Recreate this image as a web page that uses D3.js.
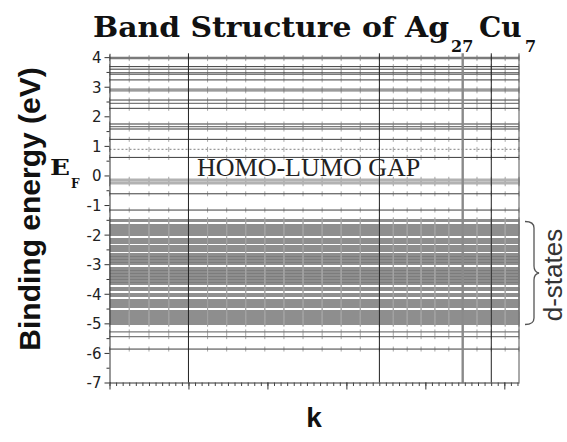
<!DOCTYPE html>
<html><head><meta charset="utf-8">
<script src="https://cdn.jsdelivr.net/npm/d3@7"></script>
<style>html,body{margin:0;padding:0;background:#fff;} svg{display:block;}</style>
</head><body>
<svg id="chart" width="567" height="442"></svg>
<script>
// ---------- data ----------
const yTicks = [4, 3, 2, 1, 0, -1, -2, -3, -4, -5, -6, -7];
const yTickLabels = ["4", "3", "2", "1", "0", "-1", "-2", "-3", "-4", "-5", "-6", "-7"];
const yMinorTicks = [3.5, 2.5, 1.5, 0.5, -0.5, -1.5, -2.5, -3.5, -4.5, -5.5, -6.5];
const kDomain = [0, 5.186];
const eDomain = [-7, 4.13];
const kMajorTicks = [0, 1, 2, 3, 4, 5];
const kSymLines = [1.0, 3.418, 4.835];
const kSymGray = [4.473];
const kPoints = [0, 0.25, 0.5, 0.75, 1.0, 1.242, 1.484, 1.725, 1.967, 2.209, 2.451, 2.693,
  2.934, 3.176, 3.418, 3.594, 3.770, 3.946, 4.121, 4.297, 4.473, 4.654, 4.835, 5.011, 5.186];
const darkBands = [3.68, 3.47, 3.23, 2.55, 2.27, 1.22, 0.61, -0.62, -1.17, -5.87];
const grayBands = [3.99, 3.95, 3.59, 3.42, 2.92, 2.86, 2.44, 1.74, 1.65, 1.57, -5.29, -5.45];
const dottedBands = [0.88];
const homoBands = [-0.13, -0.18, -0.23, -0.28];
const dBands = [-1.50, -1.55, -1.67, -1.72, -1.77, -1.82, -1.87, -1.92, -1.97, -2.02,
  -2.14, -2.19, -2.24, -2.29, -2.40, -2.45, -2.50, -2.55, -2.67, -2.72, -2.77, -2.82,
  -2.87, -2.92, -2.97, -3.01, -3.13, -3.18, -3.23, -3.28, -3.33, -3.38, -3.43, -3.48,
  -3.53, -3.58, -3.63, -3.66, -3.80, -3.84, -3.88, -4.00, -4.05, -4.09, -4.21, -4.26,
  -4.31, -4.36, -4.41, -4.46, -4.59, -4.64, -4.69, -4.74, -4.79, -4.84, -4.89, -4.94,
  -4.99, -5.03];
const dBandsDense = [-2.745, -2.845, -2.945, -3.205, -3.305, -3.405, -3.505, -3.605];

// ---------- drawing ----------
const svg = d3.select("#chart");
svg.append("rect").attr("width", 567).attr("height", 442).attr("fill", "#fff");
const x = d3.scaleLinear().domain(kDomain).range([109.5, 519]);
const y = d3.scaleLinear().domain(eDomain).range([382.5, 53.3]);

const otherBands = [].concat(darkBands, grayBands, dottedBands, homoBands);
const line = d3.line().x(d => x(d[0])).y(d => y(d[1]));
const bandPts = e => kPoints.map(k => [k, e]);

function drawMarkers(vals, color) {
  const g = svg.append("g");
  vals.forEach(e => {
    g.selectAll(null).data(kPoints).join("line")
      .attr("x1", k => x(k)).attr("x2", k => x(k))
      .attr("y1", y(e) - 2.5).attr("y2", y(e) + 2.5)
      .attr("stroke", color).attr("stroke-width", 1);
  });
}
function drawBands(vals, color, width, opacity, dash, crisp) {
  svg.append("g").attr("shape-rendering", crisp ? "crispEdges" : null)
    .selectAll("path").data(vals).join("path")
    .attr("d", e => line(bandPts(e)))
    .attr("fill", "none").attr("stroke", color)
    .attr("stroke-width", width).attr("stroke-opacity", opacity)
    .attr("stroke-dasharray", dash || null);
}
drawMarkers(otherBands, "#a8a8a8");
drawBands(dBands, "#8e8e8e", 2, 1, null, true);
drawBands(dBandsDense, "#7c7c7c", 1, 1, null, true);
drawMarkers(dBands, "#a2a2a2");
drawBands(homoBands, "#b2b2b2", 1.6, 1);
drawBands(grayBands, "#7a7a7a", 1.3, 1);
drawBands(darkBands, "#3c3c3c", 1, 1);
drawBands(dottedBands, "#9a9a9a", 1.2, 1, "2,2");

// high symmetry lines
svg.append("g").selectAll("line").data(kSymLines).join("line")
  .attr("x1", d => x(d)).attr("x2", d => x(d))
  .attr("y1", y(eDomain[1])).attr("y2", y(eDomain[0]))
  .attr("stroke", "#222").attr("stroke-width", 1);
svg.append("g").selectAll("line").data(kSymGray).join("line")
  .attr("x1", d => x(d)).attr("x2", d => x(d))
  .attr("y1", y(eDomain[1])).attr("y2", y(eDomain[0]))
  .attr("stroke", "#8a8a8a").attr("stroke-width", 2.4);
// right frame
svg.append("line").attr("x1", x(kDomain[1])).attr("x2", x(kDomain[1]))
  .attr("y1", y(eDomain[1])).attr("y2", y(eDomain[0]))
  .attr("stroke", "#555").attr("stroke-width", 1);

// axes
const yAxis = svg.append("g").attr("transform", `translate(${x(kDomain[0])},0)`)
  .call(d3.axisLeft(y).tickValues(yTicks).tickSize(5).tickSizeOuter(0)
    .tickFormat((d, i) => yTickLabels[i]));
yAxis.select(".domain").attr("stroke", "#333");
yAxis.selectAll(".tick line").attr("stroke", "#333");
yAxis.selectAll("text").attr("font-family", "DejaVu Sans").attr("font-size", 15)
  .attr("fill", "#222").attr("dy", "0.36em");
const yMinor = svg.append("g").attr("transform", `translate(${x(kDomain[0])},0)`)
  .call(d3.axisLeft(y).tickValues(yMinorTicks).tickSize(3).tickSizeOuter(0).tickFormat(""));
yMinor.select(".domain").remove();
yMinor.selectAll(".tick line").attr("stroke", "#333");

const xAxis = svg.append("g").attr("transform", `translate(0,${y(eDomain[0])})`)
  .call(d3.axisBottom(x).tickValues(kMajorTicks).tickSize(7).tickSizeOuter(0).tickFormat(""));
xAxis.select(".domain").attr("stroke", "#333");
xAxis.selectAll(".tick line").attr("stroke", "#333");
const xMinor = svg.append("g").attr("transform", `translate(0,${y(eDomain[0])})`)
  .call(d3.axisBottom(x).tickValues(d3.range(0, kDomain[1], 1 / 12)).tickSize(3.5)
    .tickSizeOuter(0).tickFormat(""));
xMinor.select(".domain").remove();
xMinor.selectAll(".tick line").attr("stroke", "#444");

// texts
const serifB = "DejaVu Serif";
svg.append("text").attr("x", 93).attr("y", 37).attr("font-family", serifB)
  .attr("font-weight", "bold").attr("font-size", 28).attr("fill", "#111")
  .attr("textLength", 356).attr("lengthAdjust", "spacingAndGlyphs")
  .text("Band Structure of Ag");
svg.append("text").attr("x", 451).attr("y", 52).attr("font-family", serifB)
  .attr("font-weight", "bold").attr("font-size", 16).attr("fill", "#111").text("27");
svg.append("text").attr("x", 479).attr("y", 37).attr("font-family", serifB)
  .attr("font-weight", "bold").attr("font-size", 28).attr("fill", "#111").text("Cu");
svg.append("text").attr("x", 525).attr("y", 52).attr("font-family", serifB)
  .attr("font-weight", "bold").attr("font-size", 16).attr("fill", "#111").text("7");

svg.append("text").attr("transform", "translate(40,209) rotate(-90)")
  .attr("text-anchor", "middle").attr("font-family", "Liberation Sans")
  .attr("font-weight", "bold").attr("font-size", 30).attr("fill", "#111")
  .text("Binding energy (eV)");

svg.append("text").attr("x", 50).attr("y", 175).attr("font-family", serifB)
  .attr("font-weight", "bold").attr("font-size", 22).attr("fill", "#111")
  .attr("textLength", 20).attr("lengthAdjust", "spacingAndGlyphs").text("E");
svg.append("text").attr("x", 71).attr("y", 188).attr("font-family", serifB)
  .attr("font-weight", "bold").attr("font-size", 12).attr("fill", "#111").text("F");

svg.append("text").attr("x", 197).attr("y", 176).attr("font-family", "Liberation Serif")
  .attr("font-size", 26).attr("fill", "#222").text("HOMO-LUMO GAP");

svg.append("text").attr("x", 314).attr("y", 427).attr("text-anchor", "middle")
  .attr("font-family", "Liberation Sans").attr("font-weight", "bold")
  .attr("font-size", 28).attr("fill", "#111").text("k");

svg.append("text").attr("transform", "translate(562,275) rotate(-90)")
  .attr("text-anchor", "middle").attr("font-family", "Liberation Sans")
  .attr("font-size", 26).attr("fill", "#333").text("d-states");

svg.append("path")
  .attr("d", "M525,221.5 Q534,221.5 534,228 L534,266 Q534,272 539,273 Q534,274 534,280 L534,318 Q534,324.5 525,324.5")
  .attr("fill", "none").attr("stroke", "#555").attr("stroke-width", 1.3);
</script>
</body></html>
